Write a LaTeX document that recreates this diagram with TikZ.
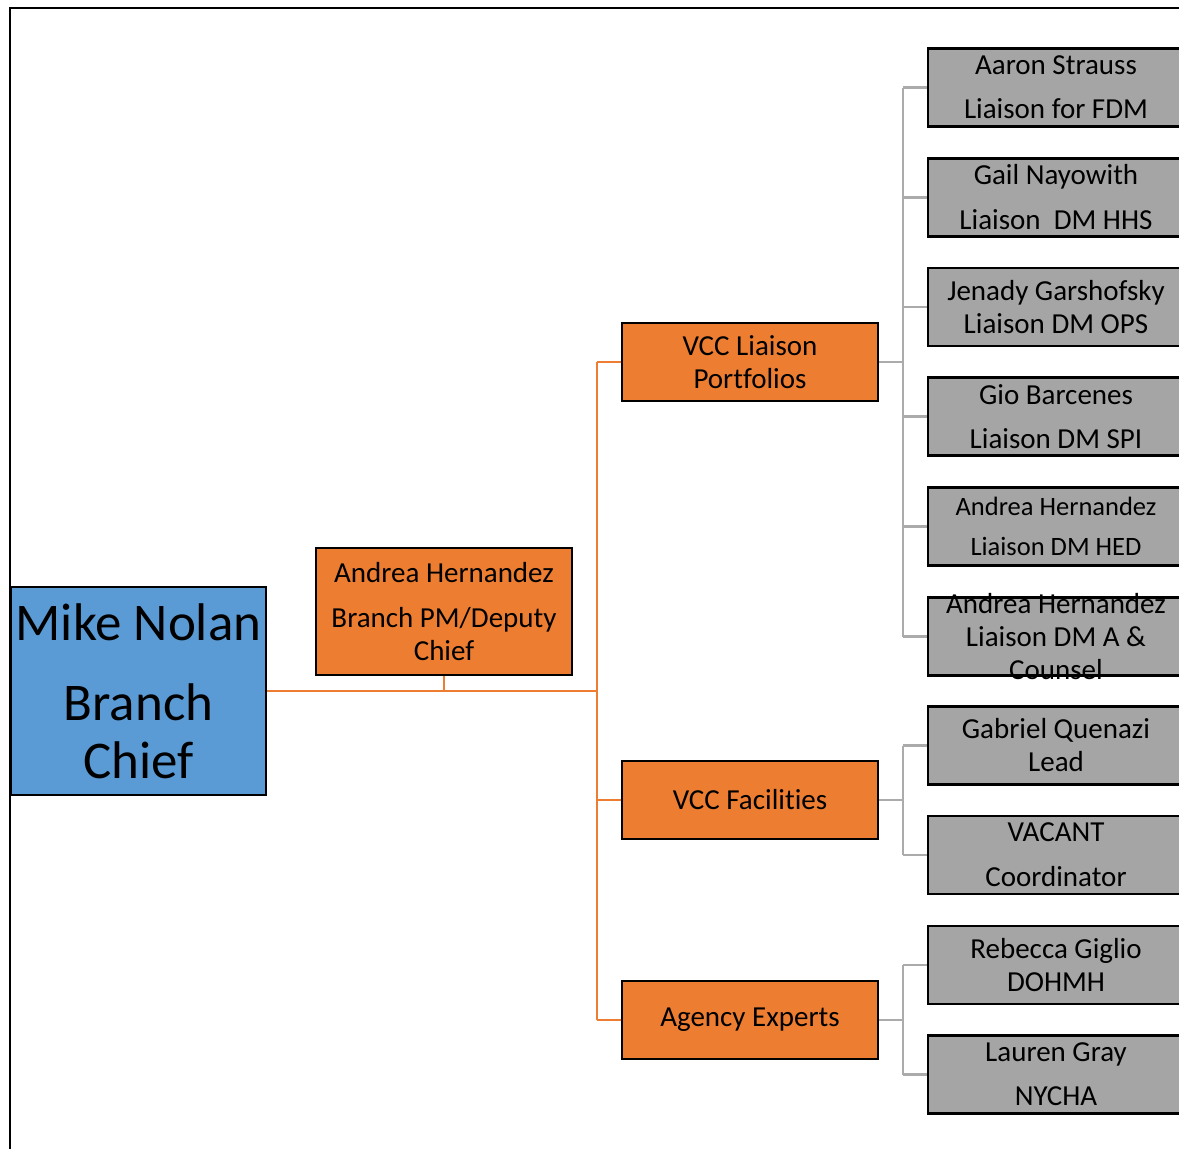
\documentclass[tikz,border=0pt]{standalone}
\usepackage{fontspec}
\setmainfont{Carlito}[Ligatures=NoCommon]
\definecolor{obox}{HTML}{ED7D31}
\definecolor{bbox}{HTML}{5B9BD5}
\definecolor{gbox}{HTML}{A5A5A5}
\definecolor{gline}{HTML}{ABABAB}
\begin{document}
\begin{tikzpicture}[x=1pt,y=-1pt,
  box/.style={draw=black, line width=2.2pt, minimum width=256pt, minimum height=78pt, inner sep=0pt},
  orangebox/.style={box, fill=obox},
  graybox/.style={box, fill=gbox},
  lab/.style={align=center, inner sep=0pt, font=\fontsize{29}{33}\selectfont, text=black},
  smalllab/.style={align=center, inner sep=0pt, font=\fontsize{26.5}{30}\selectfont, text=black},
  oline/.style={draw=obox, line width=2.5pt},
  gryline/.style={draw=gline, line width=2.5pt}]
\useasboundingbox (0,0) rectangle (1179,1149);
\clip (0,0) rectangle (1179,1149);
% frame
\draw[line width=2.2pt] (10,1160) -- (10,8) -- (1190,8);
% orange connectors
\coordinate (oj) at (597,691);
\coordinate (gj) at (903,0);
% boxes
\node[box, fill=bbox, minimum width=255pt, minimum height=208pt,
  label={[align=center, inner sep=0pt, font=\fontsize{53}{58}\selectfont]center:{Mike Nolan\\[22pt]Branch\\Chief}}] (mn) at (138.5,691) {};
\node[orangebox, minimum height=127pt,
  label={[lab]center:{Andrea Hernandez\\[12pt]Branch PM/Deputy\\Chief}}] (ah) at (444,611.5) {};
\node[orangebox, label={[lab]center:{VCC Liaison\\Portfolios}}] (vl) at (750,362) {};
\node[orangebox, label={[lab]center:{VCC Facilities}}] (vf) at (750,800) {};
\node[orangebox, label={[lab]center:{Agency Experts}}] (ag) at (750,1020) {};
\node[graybox, label={[lab]center:{Aaron Strauss\\[11pt]Liaison for FDM}}] (g1) at (1056,87.5) {};
\node[graybox, label={[lab]center:{Gail Nayowith\\[12pt]Liaison\ \ DM HHS}}] (g2) at (1056,197.5) {};
\node[graybox, label={[lab]center:{Jenady Garshofsky\\Liaison DM OPS}}] (g3) at (1056,307) {};
\node[graybox, label={[lab]center:{Gio Barcenes\\[11pt]Liaison DM SPI}}] (g4) at (1056,416.5) {};
\node[graybox, label={[smalllab]center:{Andrea Hernandez\\[10pt]Liaison DM HED}}] (g5) at (1056,526.5) {};
\node[graybox, label={[lab]center:{Andrea Hernandez\\Liaison DM A \&\\Counsel}}] (g6) at (1056,636.5) {};
\node[graybox, label={[lab]center:{Gabriel Quenazi\\Lead}}] (g7) at (1056,745.5) {};
\node[graybox, label={[lab]center:{VACANT\\[12pt]Coordinator}}] (g8) at (1056,855) {};
\node[graybox, label={[lab]center:{Rebecca Giglio\\DOHMH}}] (g9) at (1056,965) {};
\node[graybox, label={[lab]center:{Lauren Gray\\[11pt]NYCHA}}] (g10) at (1056,1074.5) {};
% orange connectors
\draw[oline] (mn.east) -- (oj);
\draw[oline] (ah.south) -- (ah.south |- oj);
\draw[oline] (vl.west -| oj) -- (ag.west -| oj);
\draw[oline] (vl.west -| oj) -- (vl.west);
\draw[oline] (vf.west -| oj) -- (vf.west);
\draw[oline] (ag.west -| oj) -- (ag.west);
% gray connectors
\draw[gryline] (vl.east) -- (vl.east -| gj);
\draw[gryline] (g1.west -| gj) -- (g6.west -| gj);
\foreach \g in {g1,g2,g3,g4,g5,g6} \draw[gryline] (\g.west -| gj) -- (\g.west);
\draw[gryline] (vf.east) -- (vf.east -| gj);
\draw[gryline] (g7.west -| gj) -- (g8.west -| gj);
\foreach \g in {g7,g8} \draw[gryline] (\g.west -| gj) -- (\g.west);
\draw[gryline] (ag.east) -- (ag.east -| gj);
\draw[gryline] (g9.west -| gj) -- (g10.west -| gj);
\foreach \g in {g9,g10} \draw[gryline] (\g.west -| gj) -- (\g.west);
\end{tikzpicture}
\end{document}
